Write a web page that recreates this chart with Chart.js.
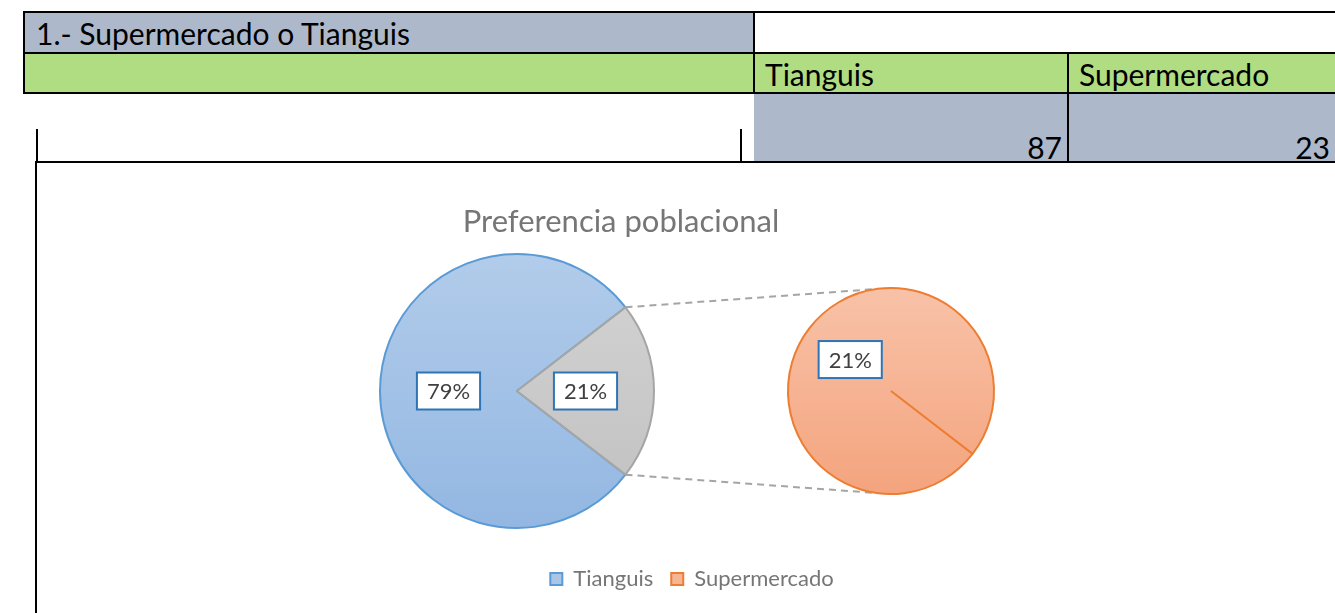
<!DOCTYPE html>
<html>
<head>
<meta charset="utf-8">
<script src="https://cdn.jsdelivr.net/npm/chart.js@4.4.1/dist/chart.umd.min.js"></script>
<style>
  html,body{margin:0;padding:0;background:#fff;}
  body{width:1335px;height:613px;overflow:hidden;position:relative;font-family:Lato,"Open Sans",sans-serif;}
  .c{position:absolute;box-sizing:border-box;color:#000;font-size:30px;white-space:nowrap;}
  .hl{position:absolute;height:2px;background:#000;}
  .vl{position:absolute;width:2px;background:#000;}
  canvas{position:absolute;}
</style>
</head>
<body>
<div id="table"></div>
<canvas id="frame" width="1170" height="450" style="left:36px;top:163px;z-index:0"></canvas>
<canvas id="mainPie" width="300" height="300" style="left:367px;top:241px;z-index:1"></canvas>
<canvas id="subPie" width="260" height="260" style="left:761px;top:261px;z-index:1"></canvas>
<div class="hl" style="left:35px;top:161px;width:1300px;z-index:3"></div>
<div class="vl" style="left:35px;top:161px;height:452px;z-index:3"></div>
<script>
// ---- data ----
const tableTitle = '1.- Supermercado o Tianguis';
const categories = ['Tianguis', 'Supermercado'];
const counts = [87, 23];
const chartTitle = 'Preferencia poblacional';
const mainLabels = ['Tianguis', 'Otro'];
const mainValues = [counts[0], counts[1]];
const subLabels = ['Supermercado'];
const subValues = [counts[1]];

// ---- table (HTML) ----
const T = document.getElementById('table');
function cell(x, y, w, h, bg, html, extra) {
  const d = document.createElement('div');
  d.className = 'c';
  d.style.cssText = `left:${x}px;top:${y}px;width:${w}px;height:${h}px;background:${bg};` + (extra || '');
  d.textContent = html;
  T.appendChild(d);
}
const GREY = '#ADB9CA', GREEN = '#B0DC82';
cell(24, 12, 730, 41, GREY, tableTitle, 'padding-left:12px;line-height:42px;');
cell(754, 12, 581, 41, '#fff', '');
cell(24, 53, 730, 41, GREEN, '');
cell(754, 53, 313, 41, GREEN, categories[0], 'padding-left:11px;line-height:42px;');
cell(1068, 53, 267, 41, GREEN, categories[1], 'padding-left:11px;line-height:42px;');
cell(754, 94, 313, 68, GREY, String(counts[0]), 'text-align:right;padding-right:5px;line-height:26px;padding-top:40px;');
cell(1068, 94, 267, 68, GREY, String(counts[1]), 'text-align:right;padding-right:5px;line-height:26px;padding-top:40px;');
function hl(x, y, w) { const d = document.createElement('div'); d.className = 'hl'; d.style.cssText = `left:${x}px;top:${y}px;width:${w}px`; T.appendChild(d); }
function vl(x, y, h) { const d = document.createElement('div'); d.className = 'vl'; d.style.cssText = `left:${x}px;top:${y}px;height:${h}px`; T.appendChild(d); }
hl(24, 11, 1311); hl(24, 52, 1311); hl(24, 92, 1311);
vl(23, 11, 83); vl(753, 11, 83); vl(1067, 52, 110);
vl(36, 129, 33); vl(740, 129, 33);

// ---- chart helpers ----
const total = counts.reduce((a, b) => a + b, 0);
const rotationDeg = 90 + (counts[1] / total) * 180;
const FONT = 'Lato, "Open Sans", sans-serif';

function vGrad(chart, c1, c2) {
  const a = chart.chartArea;
  if (!a) return c1;
  const g = chart.ctx.createLinearGradient(0, a.top, 0, a.bottom);
  g.addColorStop(0, c1); g.addColorStop(1, c2);
  return g;
}

const labelBoxes = {
  id: 'labelBoxes',
  afterDatasetsDraw(chart) {
    const ctx = chart.ctx;
    const meta = chart.getDatasetMeta(0);
    const data = chart.data.datasets[0].data;
    ctx.save();
    ctx.font = '22px ' + FONT;
    meta.data.forEach((arc, i) => {
      const p = arc.tooltipPosition();
      const txt = Math.round(data[i] / total * 100) + '%';
      const tw = ctx.measureText(txt).width;
      const w = tw + 20, h = 37;
      ctx.fillStyle = '#fff';
      ctx.fillRect(p.x - w / 2, p.y - h / 2, w, h);
      ctx.strokeStyle = '#2F75B5';
      ctx.lineWidth = 2;
      ctx.strokeRect(p.x - w / 2, p.y - h / 2, w, h);
      ctx.fillStyle = '#404040';
      ctx.textAlign = 'center';
      ctx.textBaseline = 'middle';
      ctx.fillText(txt, p.x, p.y + 1);
    });
    ctx.restore();
  }
};

const mainChart = new Chart(document.getElementById('mainPie'), {
  type: 'pie',
  data: {
    labels: mainLabels,
    datasets: [{
      data: mainValues,
      radius: 137,
      backgroundColor: (c) => c.dataIndex === 0 ? vGrad(c.chart, '#B2CCEA', '#93B7E2') : vGrad(c.chart, '#D4D4D4', '#C0C0C0'),
      borderColor: ['#5B9BD5', '#A5A5A5'],
      borderWidth: 2
    }]
  },
  options: {
    responsive: false, animation: false, rotation: rotationDeg,
    layout: { padding: 13 },
    plugins: { legend: { display: false }, tooltip: { enabled: false }, title: { display: false } }
  },
  plugins: [labelBoxes]
});

const subChart = new Chart(document.getElementById('subPie'), {
  type: 'pie',
  data: {
    labels: subLabels,
    datasets: [{
      data: subValues,
      radius: 103,
      backgroundColor: (c) => vGrad(c.chart, '#F8C2A8', '#F4A47E'),
      borderColor: '#ED7D31',
      borderWidth: 2
    }]
  },
  options: {
    responsive: false, animation: false, rotation: rotationDeg,
    layout: { padding: 27 },
    plugins: { legend: { display: false }, tooltip: { enabled: false }, title: { display: false } }
  },
  plugins: [labelBoxes]
});

const connectors = {
  id: 'connectors',
  afterDraw(chart) {
    const fc = chart.canvas;
    const m = mainChart.getDatasetMeta(0).data[1];
    const s = subChart.getDatasetMeta(0).data[0];
    const mc = mainChart.canvas, sc = subChart.canvas;
    const mox = mc.offsetLeft - fc.offsetLeft, moy = mc.offsetTop - fc.offsetTop;
    const sox = sc.offsetLeft - fc.offsetLeft, soy = sc.offsetTop - fc.offsetTop;
    const r = m.outerRadius, sr = s.outerRadius;
    const a1 = m.startAngle, a2 = m.endAngle;
    const p1 = [mox + m.x + r * Math.cos(a1), moy + m.y + r * Math.sin(a1)];
    const p2 = [mox + m.x + r * Math.cos(a2), moy + m.y + r * Math.sin(a2)];
    const t = 97 * Math.PI / 180;
    const q1 = [sox + s.x + sr * Math.cos(-t), soy + s.y + sr * Math.sin(-t)];
    const q2 = [sox + s.x + sr * Math.cos(t), soy + s.y + sr * Math.sin(t)];
    const ctx = chart.ctx;
    ctx.save();
    ctx.strokeStyle = '#A5A5A5';
    ctx.lineWidth = 2;
    ctx.setLineDash([7, 5]);
    ctx.beginPath();
    ctx.moveTo(p1[0], p1[1]); ctx.lineTo(q1[0], q1[1]);
    ctx.moveTo(p2[0], p2[1]); ctx.lineTo(q2[0], q2[1]);
    ctx.stroke();
    ctx.restore();
  }
};

new Chart(document.getElementById('frame'), {
  type: 'bar',
  data: {
    labels: [],
    datasets: [
      { label: categories[0], data: [], backgroundColor: '#A9C6E8', borderColor: '#5B9BD5', borderWidth: 2 },
      { label: categories[1], data: [], backgroundColor: '#F7B596', borderColor: '#ED7D31', borderWidth: 2 }
    ]
  },
  options: {
    responsive: false, animation: false,
    layout: { padding: { top: 0, bottom: 13, left: 0, right: 0 } },
    scales: {
      x: { display: false },
      y: {
        display: true,
        ticks: { display: false },
        grid: { display: false, drawTicks: false },
        border: { display: false },
        afterFit: (s) => { s.width = 142; }
      }
    },
    plugins: {
      tooltip: { enabled: false },
      title: {
        display: true, text: chartTitle, color: '#767676',
        font: { family: FONT, size: 31, weight: 'normal' },
        padding: { top: 40, bottom: 0 }
      },
      legend: {
        display: true, position: 'bottom', fullSize: false,
        labels: {
          color: '#767676', boxWidth: 12, boxHeight: 12, padding: 18,
          font: { family: FONT, size: 22 }
        }
      }
    }
  },
  plugins: [connectors]
});
</script>
</body>
</html>
